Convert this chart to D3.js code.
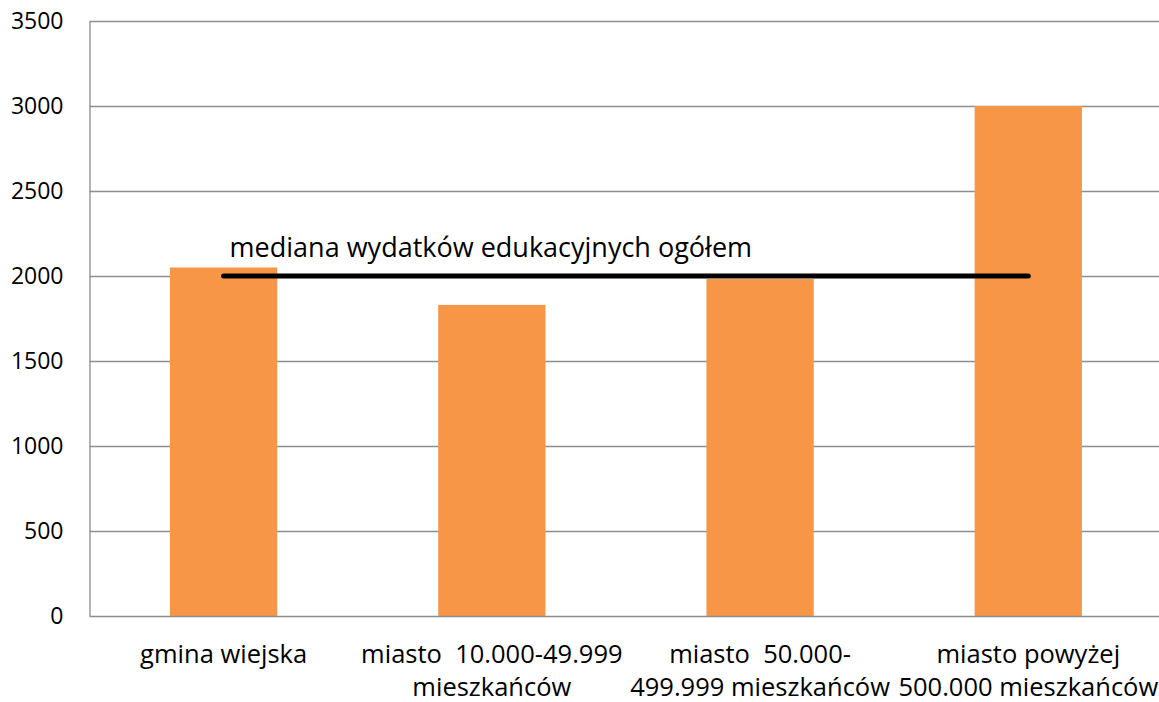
<!DOCTYPE html>
<html><head><meta charset="utf-8">
<script src="https://cdn.jsdelivr.net/npm/d3@7"></script>
<style>
html,body{margin:0;padding:0;background:#fff;}
text{font-family:"Open Sans", "Noto Sans", sans-serif;fill:#000;}
</style></head>
<body><svg id="chart" width="1159" height="702"></svg>
<script>
const categories = ["gmina wiejska","miasto 10.000-49.999","miasto 50.000-499.999","miasto powyżej 500.000"];
const categoryLines = [
  ["gmina wiejska"],
  ["miasto  10.000-49.999","mieszkańców"],
  ["miasto  50.000-","499.999 mieszkańców"],
  ["miasto powyżej","500.000 mieszkańców"]
];
const values = [2050, 1830, 1982, 3000];
const medianValue = 2000;
const medianLabel = "mediana wydatków edukacyjnych ogółem";
const yTicks = [0,500,1000,1500,2000,2500,3000,3500];

const svg = d3.select("#chart");
const L = 89.5, R = 1162.4, T = 21, B = 616;
const x = d3.scaleBand().domain(categories).range([L,R]).paddingInner(0.6).paddingOuter(0.3);
const y = d3.scaleLinear().domain([0,3500]).range([B,T]);
const fsTick = 23, fsCat = 25.5, fsMed = 27;
const ff = "'Open Sans', 'Noto Sans', sans-serif";

// gridlines
svg.append("g").selectAll("line").data(yTicks.filter(d=>d>0)).join("line")
  .attr("x1",L).attr("x2",R).attr("y1",d=>Math.round(y(d))+0.5).attr("y2",d=>Math.round(y(d))+0.5)
  .attr("stroke","#8e8e8e").attr("stroke-width",1.3);

// bars
svg.append("g").selectAll("rect").data(values).join("rect")
  .attr("x",(d,i)=>x(categories[i])).attr("width",x.bandwidth())
  .attr("y",d=>y(d)).attr("height",d=>y(0)-y(d)).attr("fill","#F79646");

// y axis
const yAxis = d3.axisLeft(y).tickValues(yTicks).tickFormat(d3.format("d")).tickSize(0).tickPadding(26);
const gy = svg.append("g").attr("transform",`translate(${L},0)`).call(yAxis);
gy.select(".domain").attr("stroke","#8e8e8e").attr("stroke-width",1.3);
gy.selectAll("text").style("font-size",fsTick+"px").style("font-family",ff).attr("fill","#000");

// x axis
const gx = svg.append("g").attr("transform",`translate(0,${B})`)
  .call(d3.axisBottom(x).tickSize(0).tickFormat(""));
gx.select(".domain").attr("stroke","#8e8e8e").attr("stroke-width",1.3).attr("d",`M${L},0.5H${R}`);
gx.selectAll(".tick").each(function(d,i){
  const t = d3.select(this).append("text").attr("text-anchor","middle").attr("fill","#000")
    .style("font-size",fsCat+"px").style("font-family",ff).attr("xml:space","preserve").style("white-space","pre");
  categoryLines[i].forEach((ln,j)=>{
    t.append("tspan").attr("x",0).attr("y",47 + j*33).text(ln);
  });
});

// median line
const c0 = x(categories[0]) + x.bandwidth()/2;
const c3 = x(categories[3]) + x.bandwidth()/2;
svg.append("line").attr("x1",c0).attr("x2",c3).attr("y1",y(medianValue)).attr("y2",y(medianValue))
  .attr("stroke","#000").attr("stroke-width",5).attr("stroke-linecap","round");
svg.append("text").attr("x",c0+6).attr("y",y(medianValue)-19)
  .style("font-size",fsMed+"px").style("font-family",ff).text(medianLabel);
</script></body></html>
